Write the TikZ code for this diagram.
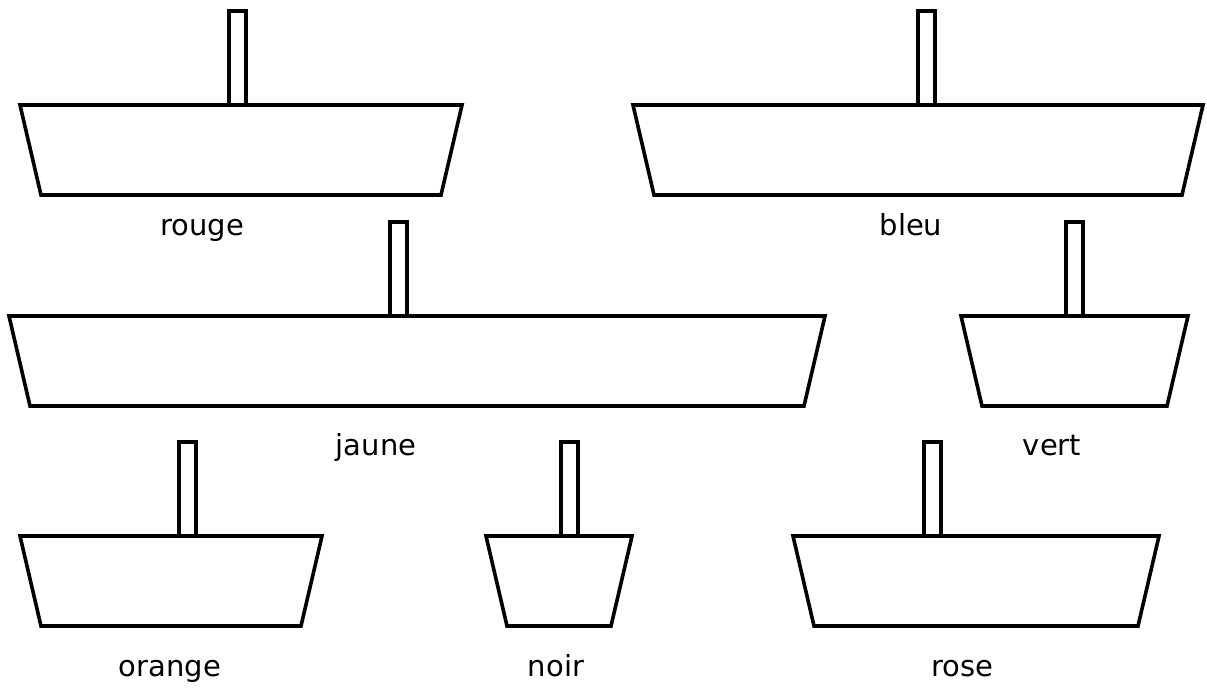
\documentclass[tikz,border=0pt]{standalone}
\usepackage{fontspec}
\setmainfont{DejaVu Sans}
\begin{document}
\begin{tikzpicture}[x=1pt,y=-1pt,line join=miter,
  hull/.style={draw=black,line width=3.6pt,fill=white},
  mast/.style={draw=black,line width=3.6pt,fill=white},
  lbl/.style={anchor=base,inner sep=0pt,font=\fontsize{29}{33}\selectfont}]
\useasboundingbox (0,0) rectangle (1207,689);
% #1 top-left x, #2 top-right x, #3 top y, #4 mast left x
\newcommand{\boatdraw}[4]{%
  \draw[hull] (#1,#3) -- (#2,#3) -- (#2-21,#3+90) -- (#1+21,#3+90) -- cycle;
  \draw[mast] (#4,#3-94) rectangle (#4+17,#3);
}
\boatdraw{20}{462}{105}{229}
\boatdraw{633}{1203}{105}{918}
\boatdraw{9}{825}{316}{390}
\boatdraw{961}{1188}{316}{1066}
\boatdraw{20}{322}{536}{179}
\boatdraw{486}{632}{536}{561}
\boatdraw{793}{1159}{536}{924}
\node[lbl] (rouge) at (202,235) {rouge};
\node[lbl] (bleu) at (911,235) {bleu};
\node[lbl] (jaune) at (376,455) {jaune};
\node[lbl] (vert) at (1052,455) {vert};
\node[lbl] (orange) at (170,676) {orange};
\node[lbl] (noir) at (556,676) {noir};
\node[lbl] (rose) at (962,676) {rose};
\end{tikzpicture}
\end{document}
